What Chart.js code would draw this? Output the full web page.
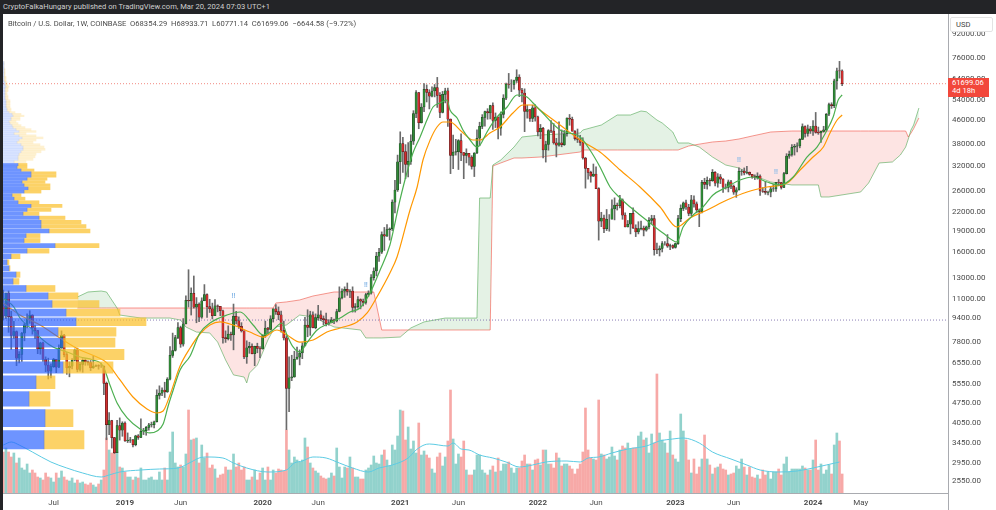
<!DOCTYPE html>
<html>
<head>
<meta charset="utf-8">
<title>BTCUSD 1W</title>
<script src="https://cdn.jsdelivr.net/npm/chart.js@4.4.1/dist/chart.umd.min.js"></script>
<style>
  html, body { margin: 0; padding: 0; }
  body { width: 996px; height: 510px; position: relative; overflow: hidden; background: #fff; font-family: Roboto, "Liberation Sans", Arial, sans-serif; }
  #topBar { position: absolute; left: 0; top: 0; width: 996px; height: 14px; background: #232427; color: #cfcfcf; font-size: 7.6px; line-height: 14px; padding-left: 3px; box-sizing: border-box; white-space: nowrap; }
  #leftEdge { position: absolute; left: 0; top: 14px; width: 3px; height: 496px; background: #232427; }
  #legend { position: absolute; left: 8px; top: 19px; font-size: 7.6px; color: #4c4c4c; white-space: pre; }
  canvas { position: absolute; left: 3px; top: 14px; }
  #usd { position: absolute; left: 950px; top: 17px; width: 43px; height: 15px; border: 1px solid #e3e3e3; border-radius: 2px; font-size: 7.6px; line-height: 14px; color: #444; padding-left: 5px; box-sizing: border-box; background: #fff; }
  #lastPrice { position: absolute; left: 948px; top: 78px; width: 41px; height: 19px; background: #f2473b; color: #fff; font-size: 7.6px; line-height: 8.4px; padding: 1px 0 0 4px; box-sizing: border-box; }
  #cornerV { position: absolute; left: 948px; top: 493px; width: 1px; height: 17px; background: #a9abb0; }
</style>
</head>
<body>
<div id="topBar">CryptoFalkaHungary published on TradingView.com, Mar 20, 2024 07:03 UTC+1</div>
<div id="leftEdge"></div>
<canvas id="main" width="990" height="496"></canvas>
<canvas id="profile" width="945" height="479"></canvas>
<div id="legend">Bitcoin / U.S. Dollar, 1W, COINBASE  O68354.29  H68933.71  L60771.14  C61699.06  −6644.58 (−9.72%)</div>
<div id="usd">USD</div>
<div id="lastPrice">61699.06<br>4d 18h</div>
<div id="cornerV"></div>
<script>
// week index counted from Mon Jan 1 2018; first visible candle = Feb 19 2018
const firstWeek = 7;
const xMin = 6.89, xMax = 364.0;
const yMin = 2316, yMax = 107900;

// weekly candles [open, high, low, close]
const ohlc2018 = [
  [10380,11790,9300,9590],[9590,11500,9380,11500],[11500,11710,8400,9530],[9530,9950,7320,8200],
  [8200,9180,8000,8450],[8450,8500,6430,6830],[6830,7200,6570,7040],[7040,8400,6650,8350],
  [8350,9040,7850,8920],[8920,9750,8700,9400],[9400,9990,9030,9650],[9650,9680,8280,8700],
  [8700,8880,7980,8520],[8520,8540,7080,7350],[7350,7760,7050,7720],[7720,7770,6650,6770],
  [6770,6900,6130,6460],[6460,6830,5780,6150],[6150,6530,5830,6380],[6380,6820,6340,6760],
  [6760,6760,6080,6350],[6350,7600,6330,7400],[7400,8500,7400,8220],[8220,8270,6900,7030],
  [7030,7150,6000,6320],[6320,6620,5880,6400],[6400,6800,6260,6720],[6720,7350,6680,7300],
  [7300,7400,6120,6240],[6240,6600,6150,6500],[6500,6800,6100,6710],[6710,6800,6450,6630],
  [6630,6680,6460,6590],[6590,6700,6180,6330],[6330,6950,6290,6410],[6410,6470,6380,6430],
  [6430,6480,6250,6400],[6400,6570,6340,6400],[6400,6420,5100,5580],[5580,5640,3550,4010],
  [4010,4410,3700,4140],[4140,4150,3320,3610],[3610,3620,3180,3200],[3200,4150,3200,3980],
  [3980,4230,3540,3830],[3830,4100,3650,4060]
];
const ohlc2019 = [
  [4060,4100,3500,3520],[3520,3750,3470,3540],[3540,3620,3470,3550],[3550,3560,3350,3410],
  [3410,3680,3380,3660],[3660,3700,3560,3620],[3620,4200,3610,3800],[3800,3890,3700,3820],
  [3820,3950,3680,3920],[3920,4050,3830,4000],[4000,4090,3930,4010],[4010,4120,3900,4100],
  [4100,5300,4090,5070],[5070,5470,4920,5160],[5160,5380,5050,5290],[5290,5630,4980,5210],
  [5210,5840,5190,5770],[5770,7500,5730,6980],[6980,8350,6870,7260],[7260,8200,7230,8060],
  [8060,9090,7990,8730],[8730,8830,7450,7640],[7640,9380,7520,8990],[8990,11250,8980,10850],
  [10850,13880,10290,10800],[10800,12000,9650,11480],[11480,13200,10200,10270],[10270,11100,9070,10530],
  [10530,10650,9150,9480],[9480,11080,9400,10820],[10820,12320,10820,11380],[11380,11450,9470,10320],
  [10320,10950,9850,10140],[10140,10620,9350,9600],[9600,10920,9600,10400],[10400,10470,9900,10350],
  [10350,10350,9600,9990],[9990,10050,7700,8050],[8050,8500,7750,7990],[7990,8850,7900,8280],
  [8280,8420,7870,8230],[8230,10540,7300,9550],[9550,9940,8980,9210],[9210,9510,8670,8810],
  [8810,9080,8420,8500],[8500,8500,6800,6900],[6900,7850,6550,7420],[7420,7760,7100,7510],
  [7510,7660,7070,7080],[7080,7520,6430,7510],[7510,7700,7130,7390],[7390,7500,6860,7350]
];
const ohlc2020 = [
  [7350,8200,7340,8180],[8180,9190,8070,8700],[8700,8750,8270,8600],[8600,9600,8560,9370],
  [9370,10150,9120,10150],[10150,10500,9700,9920],[9920,10300,9300,9670],[9670,9970,8420,8540],
  [8540,9190,7900,8040],[8040,8180,3850,5360],[5360,6900,4450,5830],[5830,6990,5700,5880],
  [5880,7220,5860,6770],[6770,7470,6770,6890],[6890,7300,6470,7120],[7120,7730,6800,7540],
  [7540,9470,7530,8900],[8900,10070,8110,8730],[8730,9950,8200,9670],[9670,9900,8700,8720],
  [8720,9740,8640,9450],[9450,10430,9260,9670],[9670,9990,9250,9380],[9380,9580,8920,9300],
  [9300,9800,8850,9000],[9000,9300,8900,9070],[9070,9470,9060,9280],[9280,9340,9000,9200],
  [9200,10110,9130,9930],[9930,12100,9900,11070],[11070,11900,10990,11690],[11690,12100,11120,11850],
  [11850,12480,11300,11660],[11660,11840,11100,11700],[11700,12100,9880,10250],[10250,10580,9880,10330],
  [10330,11180,10200,10920],[10920,10990,10140,10780],[10780,10970,10380,10670],[10670,11490,10530,11380],
  [11380,11720,11210,11500],[11500,13350,11400,13030],[13030,14090,12760,13740],[13740,15960,13200,15480],
  [15480,16480,14840,15970],[15970,18800,15800,18400],[18400,19480,16200,18180],[18180,19920,18120,19150],
  [19150,19420,17600,19280],[19280,24300,19000,23860],[23860,28400,21900,26300],[26300,34800,26000,33000]
];
const ohlc2021 = [
  [33000,41950,27700,38200],[38200,40100,30300,35800],[35800,37850,28800,32270],[32270,38500,29200,33100],
  [33100,40950,32300,38880],[38880,49700,37900,48580],[48580,58350,47000,57490],[57490,57500,43000,45160],
  [45160,52600,45000,51180],[51180,61780,49300,59000],[59000,61100,53300,57500],[57500,58800,50400,55850],
  [55850,60200,55500,58200],[58200,61300,55500,59780],[59780,64900,51000,56180],[56180,57500,47000,49000],
  [49000,58000,48800,56600],[56600,59500,52900,58240],[58240,59600,43800,46450],[46450,46500,30000,34700],
  [34700,40900,31200,35650],[35650,39500,34800,35800],[35800,39400,31000,39100],[39100,41300,33300,35500],
  [35500,35500,28800,34700],[34700,36600,32700,35300],[35300,35300,32100,34250],[34250,34650,31100,31800],
  [31800,35500,29300,35400],[35400,42600,35200,39850],[39850,45300,37500,43800],[43800,48150,43000,47100],
  [47100,49500,43900,49300],[49300,50500,46400,48800],[48800,51900,46500,51750],[51750,52950,42800,46000],
  [46000,48800,43400,47250],[47250,47300,39600,43200],[43200,49200,40800,48200],[48200,56500,46900,54950],
  [54950,62000,54300,61500],[61500,67000,59500,61300],[61300,63700,57900,61300],[61300,63500,59000,63300],
  [63300,69000,62300,65000],[65000,66300,55600,58600],[58600,59400,53300,57250],[57250,59200,42000,49400],
  [49400,51900,46800,50100],[50100,50100,45600,46700],[46700,51900,45500,50800],[50800,52100,45700,47300]
];
const ohlc2022 = [
  [47300,47600,40600,41900],[41900,44500,39700,43100],[43100,43500,34000,36300],[36300,38900,32900,37900],
  [37900,42700,36200,42400],[42400,45900,41700,42200],[42200,44800,38000,38400],[38400,39800,34300,37700],
  [37700,45400,37400,38400],[38400,42600,37200,37800],[37800,42400,37600,41300],[41300,46900,40500,46800],
  [46800,48200,44200,46400],[46400,47200,42100,42200],[42200,42400,39200,39700],[39700,42900,38500,39500],
  [39500,40800,37600,38500],[38500,40000,33700,34000],[34000,34200,26700,31300],[31300,31300,28700,30300],
  [30300,30600,28000,29400],[29400,32400,29300,29900],[29900,31700,26600,26600],[26600,26800,17600,20500],
  [20500,22000,19600,21000],[21000,21500,18700,19300],[19300,22500,19000,20800],[20800,21600,18900,20800],
  [20800,24300,20800,22600],[22600,24700,20700,23300],[23300,23700,22400,23200],[23200,25200,22800,24300],
  [24300,24500,20800,21500],[21500,21900,19550,19550],[19550,20600,19550,19990],[19990,21800,18500,21800],
  [21800,22800,19300,19400],[19400,19900,18100,18800],[18800,20400,18500,19300],[19300,20500,19100,19400],
  [19400,19700,18200,19070],[19070,19700,18900,19570],[19570,21100,19250,20620],[20620,21480,20050,20900],
  [20900,21450,15600,16300],[16300,17200,15800,16280],[16280,16800,15500,16450],[16450,17400,16000,17100],
  [17100,17400,16900,17100],[17100,18400,16600,16750],[16750,17050,16300,16830],[16830,16950,16450,16600]
];
const ohlc2023 = [
  [16600,17200,16500,17100],[17100,21450,17000,20900],[20900,23350,20400,22700],[22700,23900,22300,23750],
  [23750,24250,22500,22950],[22950,23450,21400,21800],[21800,25200,21400,24300],[24300,25100,22900,23550],
  [23550,23900,21900,22400],[22400,22600,19600,22100],[22100,28400,21900,28000],[28000,28900,26600,27500],
  [27500,29200,26500,28450],[28450,28800,27200,28330],[28330,31000,28200,30300],[30300,30500,27200,27800],
  [27800,30000,26900,29250],[29250,29800,27700,28700],[28700,28800,25800,26900],[26900,27600,26500,26850],
  [26850,28500,25900,28100],[28100,28450,26600,27100],[27100,27400,25400,25850],[25850,26800,24800,26340],
  [26340,31450,26250,30550],[30550,31000,29600,30600],[30600,31400,29700,30150],[30150,31800,29950,30300],
  [30300,30400,29600,29800],[29800,29800,28900,29300],[29300,29700,28600,29050],[29050,30200,28700,29400],
  [29400,29700,25200,26100],[26100,26800,25800,26000],[26000,28200,25400,25800],[25800,26100,25300,25830],
  [25830,26900,24900,26530],[26530,27500,26000,26550],[26550,28000,26000,27980],[27980,28600,27200,27930],
  [27930,27990,26500,26850],[26850,30300,26800,29990],[29990,35200,29900,34500],[34500,35950,33900,35000],
  [35000,37900,34500,37050],[37050,37950,34800,37400],[37400,38400,35700,37450],[37450,39700,36900,39460],
  [39460,44700,39450,43780],[43780,44000,40200,41370],[41370,44300,40500,43000],[43000,43800,41400,42280]
];
const ohlc2024 = [
  [42280,45900,40750,43950],[43950,49000,41500,41750],[41750,43580,41100,41600],[41600,42200,38500,42100],
  [42100,43850,41800,42580],[42580,48600,42250,48300],[48300,52800,47700,52150],[52150,52950,50600,51730],
  [51730,64000,50900,63130],[63130,70000,59000,68350],[68350,73800,64500,68343.64],[68354.29,68933.71,60771.14,61699.06]
];

// weekly volume, in px of bar height
const vol2018 = [41,45,41,36,40,30,35,25,23,29,20,23,20,16,15,13,20,16,15,11,20,15,22,16,13,12,15,10,13,10,11,9,8,10,8,6,9,13,23,55,43,40,45,41,26,25];
const vol2019 = [21,16,16,13,16,15,25,13,13,15,16,13,13,21,13,25,13,41,61,30,26,28,26,39,83,53,54,55,30,48,35,40,25,28,24,15,18,19,26,23,23,39,26,30,23,26,13,13,16,23,13,20];
const vol2020 = [25,13,26,13,23,20,24,23,22,63,43,30,36,33,31,33,55,46,30,25,22,20,17,15,14,15,20,17,45,26,15,26,25,36,25,16,16,14,14,23,25,28,37,30,29,38,43,33,27,48,43,57];
const vol2021 = [83,82,53,66,44,52,40,70,38,42,38,35,24,20,36,40,27,36,52,103,54,29,39,36,52,23,18,18,23,38,38,23,20,18,23,27,21,35,22,29,29,31,25,20,25,25,32,38,29,29,23,33];
const vol2022 = [34,28,43,43,29,29,25,40,35,27,29,29,27,24,19,24,29,41,85,43,35,34,33,93,39,38,34,36,46,37,33,43,47,45,50,44,45,45,57,61,53,55,40,59,50,119,60,53,50,40,62,38];
const vol2023 = [34,31,79,62,53,33,20,34,19,26,34,58,34,28,19,25,26,29,24,23,18,19,20,27,24,34,26,18,26,16,15,18,14,23,18,21,14,21,21,24,18,29,36,21,24,24,24,24,27,25,23,23];
const vol2024 = [33,53,23,29,19,23,28,19,48,60,52,19];

// volume moving average [week, px]
const volMA = [[7,48],[10,51],[13,48],[18,41],[25,31],[31,25],[37,20],[44,16],[47,18],[51,21],[59,23],[66,24],[73,25],[78,31],[81,35],[84,36],[90,35],[94,30],[99,25],[107,21],[114,23],[117,30],[120,32],[124,36],[129,35],[134,30],[139,25],[145,21],[149,25],[154,28],[160,35],[163,43],[166,48],[168,49],[175,47],[177,50],[180,44],[183,43],[187,38],[192,35],[197,31],[202,26],[207,28],[212,31],[220,32],[225,31],[228,35],[232,36],[237,40],[243,44],[250,47],[255,52],[260,54],[264,55],[270,50],[275,41],[282,34],[288,28],[293,23],[300,21],[307,22],[313,25],[318,28],[323,31]];

// moving averages [week, price]
const fastMA = [[7,11064],[11,10293],[13.3,9424],[18.2,8560],[22,7900],[25.8,7470],[31.1,7176],[36,6893],[40.9,6730],[44.7,6413],[47.3,5507],[50,4767],[53.8,4227],[58.7,3870],[62.4,3748],[65.1,3808],[67.4,4027],[69.3,4653],[71.1,5248],[73.8,6211],[77.6,6949],[81.3,8360],[85.1,9055],[91.5,9650],[96.5,9888],[101.4,8910],[105.2,8224],[108.9,8560],[112.3,9055],[114.2,8224],[116.5,7470],[119.1,7176],[121.7,7712],[125.6,8560],[130.5,9055],[134.3,9424],[138,9888],[141.8,10210],[145.6,11517],[149.4,13850],[153.1,16923],[156.9,24280],[159.6,30390],[161.8,35390],[164.5,40240],[167.1,46110],[169.4,51180],[172,52850],[174.7,54130],[175.8,49960],[178.5,46860],[180.7,42560],[183.4,39280],[186,37130],[187.2,37740],[189.8,41880],[193.6,47240],[197.4,51180],[201.1,56360],[204.9,55460],[207.2,52850],[209.8,49960],[217.4,42560],[225,40240],[228.7,36250],[232.5,31630],[236.3,26950],[240.1,24670],[243.9,22950],[247.6,21530],[251.4,20190],[256.3,18630],[261.6,17340],[263.9,19550],[267.7,21530],[271.4,22950],[275.2,25270],[280.5,26950],[285.4,28500],[290.3,29190],[295.6,28050],[300.5,27390],[305.5,29190],[310.7,34270],[314.5,37130],[318.3,42560],[320.6,47240],[322.5,54130],[324,56360]];
const slowMA = [[7,10630],[13.3,9650],[20.9,8910],[28.4,8030],[36,7291],[42.4,6893],[46.2,6570],[51.1,5733],[56,5002],[61.3,4543],[65.1,4400],[67.4,4470],[70,5083],[73.8,6413],[77.6,7410],[81.3,8290],[85.1,8910],[88.9,9130],[93.8,8910],[100.2,8420],[105.2,8090],[110.4,8560],[114.2,8224],[119.1,7770],[124.1,7900],[129.3,8420],[134.3,8700],[140.7,9130],[144.5,9810],[148.2,11150],[153.1,13520],[155.8,15371],[160.7,22410],[163.4,26950],[165.6,33460],[168.3,39280],[170.9,43600],[173.2,45380],[175.8,45380],[180.4,41880],[184.5,39280],[187.2,39280],[190.9,41550],[194.7,43600],[199.6,48780],[203.4,52010],[207.2,52010],[209.8,49960],[217.4,44300],[225,39280],[232.5,35680],[240.1,30880],[247.6,26950],[255.2,22950],[261.6,19550],[266.5,21020],[273,22410],[280.5,24280],[288.1,25890],[295.6,26950],[303.2,27830],[308.1,30880],[313,34270],[316.9,37130],[319.4,41550],[322.1,46110],[324,48000]];

// ichimoku cloud: weeks and the two leading spans
const cloudWeeks = [35,39,44,46,48,50,51,59,70,74,76,80,85,88,91,94,98,99,100,103,107,109,110,114,119,124,132,142,144,147,150,157,161,166,174,186,187,191,192,195,200,203,210,225,226,233,239,244,248,250,254,256,260,262,266,270,275,280,285,290,297,305,315,316,319,331,334,338,343,346,348,349,350,351,353];
const spanA = [11150,11610,11700,11610,10890,10210,9650,9420,9420,9270,8770,8420,8360,7770,6730,5970,5870,5600,6060,6460,7900,8560,8770,8910,9650,9500,8770,8560,8030,8030,8030,8090,8700,9130,9420,9420,24670,24670,32140,33460,37130,40240,40890,41550,42560,44300,48000,48000,49570,49270,46110,45020,41880,38350,38350,37130,34270,32140,31380,29670,28050,27390,27390,24870,24870,25890,27830,32670,32930,34830,37130,39600,42560,44300,50770];
const spanB = [10210,10210,10210,10210,10210,10210,10210,10210,10210,10210,10210,10210,10210,10210,10210,10210,10210,10210,10210,10210,10210,10210,10630,10720,10890,11240,11610,11610,11610,11610,8560,8560,8560,8560,8560,8560,8560,8560,31890,32670,34000,34000,34270,35680,36250,36250,36250,36250,36250,36250,36250,36250,36250,36250,37430,38000,38660,38960,39600,40560,41880,42220,42220,42220,42220,42220,42220,42220,42220,42220,42220,40240,41500,43000,46860];

// volume profile rows: equal price rows from 3200, step 700; lengths in px
const rowBase = 3200, rowStep = 700, valueAreaTop = 42;
const profileBuy = [41,42,26,33,60,57,60,55,73,63,49,45,23,10,13,6,4,8,24,52,21,23,46,38,38,36,20,24,28,15,11,9,21,25,21,19,24,28,28,18,14,15,11,15,15,16,18,20,20,18,14,16,19,16,11,16,13,10,9,7,6,8,8,10,9,6,4,4,3,3,3,3,3,2,2,2,2,2,2,2,2,3,2,2,2,1,1,1,1,1,1,1,1,1,1,1,1,1,1,1,1];
const profileSell = [40,28,21,19,50,64,52,58,70,54,47,30,29,6,4,1,2,9,22,44,16,14,41,45,40,26,16,24,31,21,11,9,17,22,26,23,20,25,25,13,10,9,12,15,17,17,20,22,21,19,16,17,21,17,12,17,15,12,9,8,7,9,9,11,9,6,4,4,4,4,4,4,4,3,3,3,2,2,3,3,3,3,3,2,2,2,2,2,2,1,1,1,1,1,1,0,0,0,0,0,0];

// price axis and time axis labels
const priceTicks = [2550,2950,3450,4050,4750,5550,6550,7800,9400,11000,13000,16000,19000,22000,26000,32000,38000,46000,54000,64000,76000,92000];
const timeTicks = [26,53,74,105,126,157,179,209,231,261,283,313,331];
const timeLabels = ['Jul','2019','Jun','2020','Jun','2021','Jun','2022','Jun','2023','Jun','2024','May'];

// "!!" signal markers [week, price]
const markerWeeks = [94,144,285,299];
const markerPrices = [11070,12090,32930,29840];

const levelPrice = 9270;

const candles = [...ohlc2018, ...ohlc2019, ...ohlc2020, ...ohlc2021, ...ohlc2022, ...ohlc2023, ...ohlc2024];
const volumes = [...vol2018, ...vol2019, ...vol2020, ...vol2021, ...vol2022, ...vol2023, ...vol2024];
const lastClose = candles[candles.length - 1][3];

const isUp = candles.map(c => c[3] >= c[0]);
const bodyData = candles.map((c, i) => ({ x: firstWeek + i, y: [c[0], c[3]] }));
const wickData = candles.map((c, i) => ({ x: firstWeek + i, y: [c[2], c[1]] }));
const volData = volumes.map((v, i) => ({ x: firstWeek + i, y: v }));
const toPts = arr => arr.map(p => ({ x: p[0], y: p[1] }));

// no extra room for half tick labels: the plot runs edge to edge
const noPad = s => { s.paddingTop = 0; s.paddingBottom = 0; s.paddingLeft = 0; s.paddingRight = 0; };

const markerPlugin = {
    id: 'markers',
    afterDatasetsDraw(chart) {
        const { ctx, scales } = chart;
        ctx.save();
        ctx.fillStyle = '#8dbbe8';
        ctx.font = 'bold 7px Roboto';
        ctx.textAlign = 'center';
        markerWeeks.forEach((w, i) => {
            ctx.fillText('!!', scales.x.getPixelForValue(w), scales.y.getPixelForValue(markerPrices[i]));
        });
        ctx.restore();
    }
};

const mainChart = new Chart(document.getElementById('main'), {
    type: 'bar',
    data: {
        datasets: [
            {
                type: 'line', data: toPts(fastMA), borderColor: '#4caf50', borderWidth: 1.2,
                pointRadius: 0, cubicInterpolationMode: 'monotone', order: 1
            },
            {
                type: 'line', data: toPts(slowMA), borderColor: '#ff9800', borderWidth: 1.2,
                pointRadius: 0, cubicInterpolationMode: 'monotone', order: 2
            },
            {
                type: 'bar', data: bodyData, grouped: false, barThickness: 2.2, borderSkipped: false,
                backgroundColor: isUp.map(u => u ? '#2f8a36' : '#d32f2f'),
                borderColor: isUp.map(u => u ? '#1c3b1e' : '#4a1616'), borderWidth: 0.5, order: 3
            },
            {
                type: 'bar', data: wickData, grouped: false, barThickness: 1,
                backgroundColor: '#6b6b6b', order: 4
            },
            {
                type: 'line', data: [{ x: xMin, y: lastClose }, { x: xMax, y: lastClose }],
                borderColor: '#f28b82', borderWidth: 1, borderDash: [1, 2], pointRadius: 0, order: 5
            },
            {
                type: 'line', data: [{ x: xMin, y: levelPrice }, { x: xMax, y: levelPrice }],
                borderColor: '#8a7fb5', borderWidth: 1, borderDash: [1, 2], pointRadius: 0, order: 5
            },
            {
                type: 'line', data: cloudWeeks.map((w, i) => ({ x: w, y: spanA[i] })),
                borderColor: 'rgba(67,160,71,0.55)', borderWidth: 1, pointRadius: 0,
                fill: { target: '+1', above: 'rgba(67,160,71,0.14)', below: 'rgba(244,67,54,0.14)' }, order: 6
            },
            {
                type: 'line', data: cloudWeeks.map((w, i) => ({ x: w, y: spanB[i] })),
                borderColor: 'rgba(244,67,54,0.55)', borderWidth: 1, pointRadius: 0, order: 7
            },
            {
                type: 'line', data: toPts(volMA), yAxisID: 'yv', borderColor: '#5ccbe3', borderWidth: 1,
                pointRadius: 0, cubicInterpolationMode: 'monotone', order: 8
            },
            {
                type: 'bar', data: volData, yAxisID: 'yv', grouped: false, barThickness: 2,
                backgroundColor: isUp.map(u => u ? 'rgba(38,166,154,0.5)' : 'rgba(239,83,80,0.5)'), order: 9
            }
        ]
    },
    options: {
        responsive: false,
        animation: false,
        devicePixelRatio: 1,
        layout: { padding: 0 },
        plugins: { legend: { display: false }, tooltip: { enabled: false } },
        scales: {
            x: {
                type: 'linear', min: xMin, max: xMax, offset: false,
                grid: { display: false, drawTicks: false },
                border: { display: true, color: '#a9abb0' },
                afterBuildTicks: s => { s.ticks = timeTicks.map(v => ({ value: v })); },
                afterFit: s => { s.height = 17; noPad(s); },
                ticks: {
                    autoSkip: false, maxRotation: 0, padding: 5, color: '#4b4b4b',
                    font: c => ({ family: 'Roboto', size: 8, weight: (c.tick && /^\d{4}$/.test(c.tick.label)) ? 'bold' : 'normal' }),
                    callback: (v, i) => timeLabels[i]
                }
            },
            y: {
                type: 'logarithmic', position: 'right', min: yMin, max: yMax, offset: false,
                grid: { display: false, drawTicks: false },
                border: { display: true, color: '#a9abb0' },
                afterBuildTicks: s => { s.ticks = priceTicks.map(v => ({ value: v })); },
                afterFit: s => { s.width = 45; noPad(s); },
                ticks: {
                    autoSkip: false, padding: 4, color: '#4b4b4b', font: { family: 'Roboto', size: 8 },
                    callback: v => Number(v).toFixed(2)
                }
            },
            yv: { type: 'linear', display: false, min: 0, max: 479 }
        }
    },
    plugins: [markerPlugin]
});

const rowMid = profileBuy.map((_, k) => rowBase + rowStep * k + rowStep / 2);
const blueColor = c => c.dataIndex >= valueAreaTop ? 'rgba(41,98,255,0.18)' : 'rgba(41,98,255,0.68)';
const yellowColor = c => c.dataIndex >= valueAreaTop ? 'rgba(251,192,45,0.22)' : 'rgba(251,192,45,0.72)';

new Chart(document.getElementById('profile'), {
    type: 'bar',
    data: {
        datasets: [
            {
                data: profileBuy.map((v, k) => ({ x: v, y: rowMid[k] })), stack: 'p',
                backgroundColor: blueColor, barThickness: 'flex', categoryPercentage: 1, barPercentage: 0.82
            },
            {
                data: profileSell.map((v, k) => ({ x: v, y: rowMid[k] })), stack: 'p',
                backgroundColor: yellowColor, barThickness: 'flex', categoryPercentage: 1, barPercentage: 0.82
            }
        ]
    },
    options: {
        indexAxis: 'y',
        responsive: false,
        animation: false,
        devicePixelRatio: 1,
        layout: { padding: 0 },
        plugins: { legend: { display: false }, tooltip: { enabled: false } },
        scales: {
            x: { type: 'linear', display: false, min: 0, max: 945, stacked: true },
            y: { type: 'logarithmic', display: false, min: yMin, max: yMax, stacked: true, offset: false }
        }
    }
});

// last price tag sits on the price line
const tagY = Math.round(mainChart.scales.y.getPixelForValue(lastClose)) + 14;
document.getElementById('lastPrice').style.top = (tagY - 6) + 'px';
</script>
</body>
</html>
